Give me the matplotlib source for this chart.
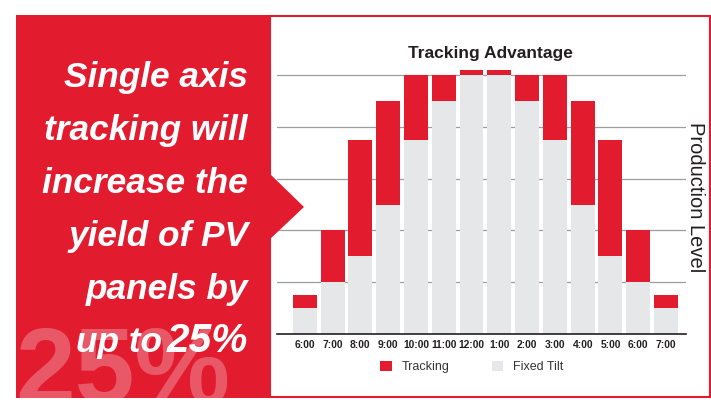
import matplotlib
matplotlib.use('Agg')
import matplotlib.pyplot as plt
from matplotlib import font_manager
from matplotlib.patches import Rectangle, Polygon

# ---------------------------- data ----------------------------
hours = ['6:00', '7:00', '8:00', '9:00', '10:00', '11:00', '12:00',
         '1:00', '2:00', '3:00', '4:00', '5:00', '6:00', '7:00']
fixed_tilt = [0.5, 1.0, 1.5, 2.5, 3.75, 4.5, 5.0, 5.0, 4.5, 3.75, 2.5, 1.5, 1.0, 0.5]
tracking = [0.75, 2.0, 3.75, 4.5, 5.0, 5.0, 5.1, 5.1, 5.0, 5.0, 4.5, 3.75, 2.0, 0.75]
headline = ['Single axis', 'tracking will', 'increase the', 'yield of PV', 'panels by']
gain = [t - f for t, f in zip(tracking, fixed_tilt)]

RED = '#E21B2F'
GREY = '#E6E7E8'
INK = '#231F20'

# condensed font if we have it, else plain Liberation a bit smaller
names = {f.name for f in font_manager.fontManager.ttflist}
if 'Liberation Sans Narrow' in names:
    NARROW, k = 'Liberation Sans Narrow', 1.0
else:
    NARROW, k = 'Liberation Sans', 0.86
plt.rcParams['font.family'] = [NARROW, 'DejaVu Sans']

W, H = 711, 403
fig = plt.figure(figsize=(W / 100, H / 100), dpi=100)

# background layer in pixel coordinates
bg = fig.add_axes([0, 0, 1, 1])
bg.set_xlim(0, W)
bg.set_ylim(H, 0)
bg.axis('off')

panel = Rectangle((16, 15), 254, 383, facecolor=RED, edgecolor='none')
bg.add_patch(panel)
bg.add_patch(Rectangle((270, 16), 439.5, 381, fill=False, edgecolor=RED, lw=1.5))

# big faded 25% behind the headline
wm = bg.text(15, 403, '25%', fontsize=90 * k, fontweight='bold', color='white',
             alpha=0.27, ha='left', va='baseline')
wm.set_clip_path(panel)

for i, line in enumerate(headline):
    bg.text(248, 87 + 53 * i, line, fontsize=29.5 * k, fontweight='bold',
            fontstyle='italic', color='white', ha='right', va='baseline')
big = bg.text(248, 352, '25%', fontsize=34 * k, fontweight='bold', fontstyle='italic',
              color='white', ha='right', va='baseline')
bg.annotate('up to', xy=(0, 352), xycoords=(big, 'data'), xytext=(-3, 0),
            textcoords='offset points', fontsize=29.5 * k, fontweight='bold',
            fontstyle='italic', color='white', ha='right', va='baseline')

# ---------------------------- chart ----------------------------
unit = 51.8
ax_left, ax_right, base = 277, 686, 334
ymax = 5.2
ax = fig.add_axes([ax_left / W, (H - base) / H, (ax_right - ax_left) / W,
                   ymax * unit / H])
x = list(range(len(hours)))
b_fixed = ax.bar(x, fixed_tilt, width=0.86, color=GREY, label='Fixed Tilt', zorder=2)
b_track = ax.bar(x, gain, bottom=fixed_tilt, width=0.86, color=RED, label='Tracking', zorder=2)

ax.set_xlim(-1.0, 13.72)
ax.set_ylim(0, ymax)
ax.set_yticks([1, 2, 3, 4, 5])
ax.set_yticklabels([])
ax.yaxis.grid(True, color='#9D9D9D', lw=0.9)
ax.set_axisbelow(True)
ax.set_xticks(x)
ax.set_xticklabels(hours, fontsize=8.6 * k, fontweight='bold', color=INK)
ax.tick_params(axis='both', length=0)
ax.tick_params(axis='x', pad=4)
for s in ['top', 'left', 'right']:
    ax.spines[s].set_visible(False)
ax.spines['bottom'].set_color(INK)
ax.spines['bottom'].set_linewidth(1.2)
ax.spines['bottom'].set_zorder(3)
ax.patch.set_alpha(0)

bg.text(490, 58, 'Tracking Advantage', fontsize=14.5 * k, fontweight='bold',
        color=INK, ha='center', va='baseline')
bg.text(695, 197, 'Production Level', fontsize=14.5, family=['Liberation Sans', 'DejaVu Sans'],
        color=INK, rotation=-90, ha='center', va='center')

fig.legend(handles=[b_track, b_fixed], loc='center', bbox_to_anchor=(472 / W, 1 - 367 / H),
           ncol=2, frameon=False, fontsize=10.5 * k, labelcolor='#333333',
           handlelength=0.9, handleheight=0.9, handletextpad=0.8, columnspacing=3.4)

# arrow of the red panel sits on top of the chart
fig.add_artist(Polygon([(269, 173), (304, 207), (269, 240)], closed=True,
                       facecolor=RED, edgecolor='none', transform=bg.transData, zorder=5))

fig.savefig('out.png', dpi=100)
